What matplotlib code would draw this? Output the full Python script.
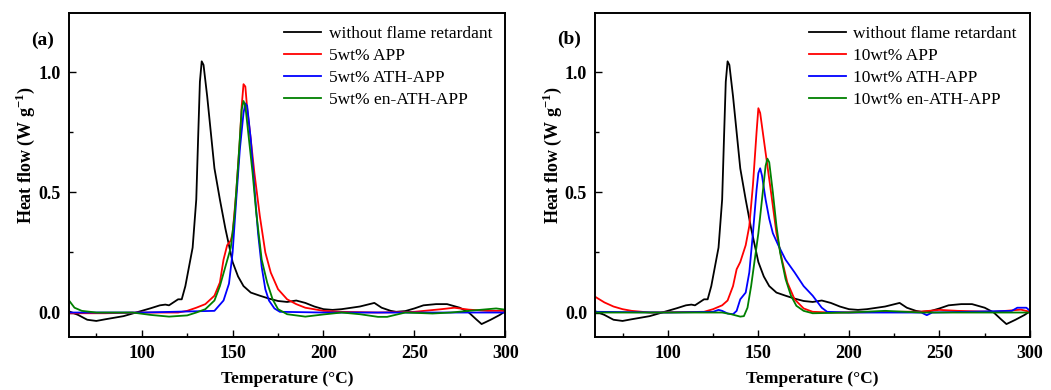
import numpy as np
import matplotlib.pyplot as plt
from matplotlib.ticker import MultipleLocator

plt.rcParams['font.family'] = ['Liberation Serif', 'DejaVu Serif']
plt.rcParams['mathtext.fontset'] = 'custom'
plt.rcParams['mathtext.rm'] = 'Liberation Serif'
plt.rcParams['mathtext.bf'] = 'Liberation Serif:bold'

# black curve, same in both panels
t_none = [60, 65, 70, 75, 80, 90, 100, 105, 110, 113, 115, 118, 120, 122, 124, 126, 128, 130, 131, 132, 133,
          134, 136, 138, 140, 143, 146, 150, 153, 156, 160, 165, 170, 175, 180, 185, 190, 195, 200, 205, 210,
          220, 228, 232, 237, 240, 245, 250, 255, 262, 268, 275, 280, 284, 287, 292, 297, 300]
h_none = [0.005, -0.01, -0.03, -0.035, -0.028, -0.015, 0.007, 0.018, 0.03, 0.033, 0.03, 0.045, 0.055, 0.055,
          0.11, 0.19, 0.27, 0.47, 0.72, 0.96, 1.045, 1.03, 0.9, 0.75, 0.6, 0.47, 0.35, 0.21, 0.15, 0.11,
          0.083, 0.07, 0.058, 0.048, 0.044, 0.05, 0.04, 0.025, 0.014, 0.011, 0.014, 0.025, 0.04, 0.02,
          0.007, 0.003, 0.006, 0.017, 0.03, 0.035, 0.035, 0.02, 0.0, -0.028, -0.048, -0.03, -0.01, 0.005]

# panel (a), 5 wt%
t_app5 = [60, 80, 100, 120, 125, 130, 135, 140, 143, 145, 147, 149, 150, 152, 154, 155, 156, 157, 158, 160,
          162, 165, 168, 171, 175, 180, 185, 190, 200, 210, 230, 250, 265, 272, 280, 290, 300]
h_app5 = [-0.003, -0.003, 0.0, 0.0, 0.007, 0.02, 0.035, 0.07, 0.125, 0.22, 0.28, 0.3, 0.33, 0.5, 0.72, 0.86,
          0.95, 0.94, 0.85, 0.72, 0.58, 0.4, 0.25, 0.166, 0.097, 0.055, 0.035, 0.02, 0.007, 0.003, 0.0,
          0.003, 0.014, 0.02, 0.012, 0.007, 0.007]

t_ath5 = [60, 100, 140, 145, 148, 150, 152, 154, 156, 157, 158, 160, 162, 164, 166, 168, 170, 173, 176,
          200, 250, 300]
h_ath5 = [0.0, 0.0, 0.007, 0.05, 0.12, 0.25, 0.47, 0.68, 0.83, 0.87, 0.86, 0.72, 0.52, 0.33, 0.19, 0.097,
          0.05, 0.017, 0.003, 0.0, 0.0, 0.0]

t_en5 = [60, 63, 67, 75, 95, 105, 115, 125, 130, 135, 140, 143, 146, 149, 151, 153, 155, 156, 157, 159, 161,
         163, 166, 169, 172, 175, 180, 190, 200, 210, 220, 230, 235, 245, 260, 270, 280, 295, 300]
h_en5 = [0.05, 0.02, 0.007, 0.0, 0.0, -0.01, -0.017, -0.012, 0.0, 0.014, 0.05, 0.11, 0.19, 0.27, 0.4, 0.61,
         0.845, 0.88, 0.86, 0.72, 0.58, 0.415, 0.22, 0.125, 0.055, 0.014, -0.007, -0.017, -0.008, 0.0,
         -0.007, -0.018, -0.018, 0.0, -0.004, 0.0, 0.007, 0.017, 0.012]

# panel (b), 10 wt%
t_app10 = [60, 65, 70, 75, 80, 90, 120, 125, 130, 133, 136, 138, 140, 143, 145, 147, 149, 150, 151, 153, 155,
           157, 160, 163, 166, 170, 175, 180, 190, 240, 250, 260, 280, 295, 300]
h_app10 = [0.065, 0.042, 0.025, 0.014, 0.007, 0.0, 0.003, 0.014, 0.03, 0.05, 0.11, 0.18, 0.21, 0.28, 0.36,
           0.53, 0.75, 0.85, 0.83, 0.72, 0.61, 0.5, 0.33, 0.22, 0.125, 0.055, 0.017, 0.003, 0.0, 0.004,
           0.011, 0.007, 0.003, 0.012, 0.003]

t_ath10 = [60, 100, 125, 128, 130, 133, 136, 138, 140, 143, 145, 147, 149, 150, 151, 152, 154, 156, 158, 161,
           165, 170, 175, 180, 185, 188, 200, 240, 243, 246, 290, 293, 298, 300]
h_ath10 = [0.003, 0.0, 0.003, 0.011, 0.007, -0.004, -0.007, 0.007, 0.055, 0.083, 0.167, 0.33, 0.51, 0.58,
           0.6, 0.57, 0.47, 0.39, 0.33, 0.28, 0.22, 0.167, 0.11, 0.07, 0.02, 0.003, 0.0, 0.0, -0.011, 0.0,
           0.007, 0.02, 0.02, 0.007]

t_en10 = [60, 130, 135, 140, 142, 144, 146, 148, 150, 152, 154, 155, 156, 158, 160, 162, 165, 168, 171, 175,
          180, 200, 220, 240, 300]
h_en10 = [0.0, 0.0, -0.007, -0.017, -0.015, 0.02, 0.11, 0.22, 0.33, 0.47, 0.61, 0.64, 0.625, 0.5, 0.36,
          0.25, 0.14, 0.07, 0.028, 0.007, -0.003, 0.0, 0.007, 0.0, 0.0]

labels_a = ['without flame retardant', '5wt% APP', '5wt% ATH-APP', '5wt% en-ATH-APP']
labels_b = ['without flame retardant', '10wt% APP', '10wt% ATH-APP', '10wt% en-ATH-APP']
colors = ['black', '#ff0000', '#0000ff', '#008000']

fig = plt.figure(figsize=(10.51, 3.9), dpi=100)
ax1 = fig.add_axes([0.0657, 0.137, 0.415, 0.829])
ax2 = fig.add_axes([0.5665, 0.137, 0.4135, 0.829])

panels = [
    (ax1, [(t_none, h_none), (t_app5, h_app5), (t_ath5, h_ath5), (t_en5, h_en5)], labels_a),
    (ax2, [(t_none, h_none), (t_app10, h_app10), (t_ath10, h_ath10), (t_en10, h_en10)], labels_b),
]

for ax, curves, labels in panels:
    for (t, h), c, lab in zip(curves, colors, labels):
        ax.plot(t, h, color=c, lw=1.3, label=lab)
    ax.set_xlim(60, 300)
    ax.set_ylim(-0.1, 1.245)
    ax.xaxis.set_major_locator(MultipleLocator(50))
    ax.xaxis.set_minor_locator(MultipleLocator(25))
    ax.yaxis.set_major_locator(MultipleLocator(0.5))
    ax.yaxis.set_minor_locator(MultipleLocator(0.25))
    ax.tick_params(which='both', direction='in', labelsize=13, width=1.0)
    ax.tick_params(which='major', length=5, pad=6)
    ax.tick_params(which='minor', length=3)
    ax.set_xticks([100, 150, 200, 250, 300])
    for lab in ax.get_xticklabels() + ax.get_yticklabels():
        lab.set_fontweight('bold')
    for s in ax.spines.values():
        s.set_linewidth(1.4)
    ax.set_xlabel('Temperature (°C)', fontsize=12.5, fontweight='bold', va='center')
    ax.xaxis.set_label_coords(0.5, -0.13)
    ax.set_ylabel(r'Heat flow (W g$^{\mathbf{-1}}$)', fontsize=13, fontweight='bold', va='center')
    ax.yaxis.set_label_coords(-0.1, 0.56)
    ax.legend(loc='upper right', frameon=False, fontsize=12.5, handlelength=2.1, handletextpad=0.45,
              labelspacing=0.33, borderaxespad=0.35)

fig.text(0.030, 0.897, '(a)', fontsize=14, fontweight='bold', va='center')
fig.text(0.530, 0.900, '(b)', fontsize=14, fontweight='bold', va='center')

fig.savefig('out.png', dpi=100)
